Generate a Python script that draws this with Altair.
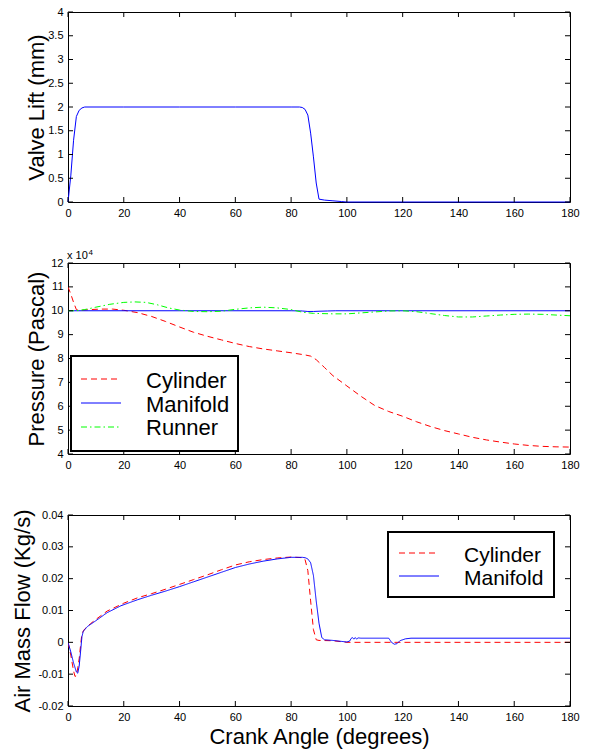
import altair as alt
import pandas as pd

FONT = "Liberation Sans"
W = 502
H1, H2, H3 = 190, 191, 191

# ---- tick values ----
angle_ticks = [0, 20, 40, 60, 80, 100, 120, 140, 160, 180]
lift_ticks = [0, 0.5, 1, 1.5, 2, 2.5, 3, 3.5, 4]
pres_ticks = [4, 5, 6, 7, 8, 9, 10, 11, 12]
flow_ticks = [-0.02, -0.01, 0, 0.01, 0.02, 0.03, 0.04]

# ---- valve lift (mm) ----
lift_angle = [0, 1, 2, 3, 4, 5, 6, 20, 40, 60, 80, 83, 84, 85, 86, 87, 88, 89, 90, 92, 95, 98, 100, 120, 140, 160, 180]
lift_mm = [0, 0.55, 1.3, 1.8, 1.93, 1.98, 2.0, 2.0, 2.0, 2.0, 2.0, 2.0, 1.99, 1.95, 1.83, 1.45, 0.95, 0.4, 0.06, 0.04, 0.025, 0.01, 0, 0, 0, 0, 0]

# ---- pressure (x 10^4 Pa) ----
cyl_p_angle = [0, 1, 2, 3, 4, 5, 8, 12, 16, 20, 25, 30, 35, 40, 45, 50, 55, 60, 65, 70, 75, 80, 85, 87, 89, 92, 95,
               100, 105, 110, 115, 120, 125, 130, 135, 140, 145, 150, 155, 160, 165, 170, 175, 180]
cyl_p = [11.0, 10.7, 10.35, 10.05, 10.0, 10.02, 10.05, 10.07, 10.07, 10.02, 9.92, 9.76, 9.55, 9.32, 9.1, 8.93, 8.78,
         8.63, 8.5, 8.4, 8.32, 8.24, 8.15, 8.1, 7.95, 7.62, 7.28,
         6.85, 6.42, 6.03, 5.78, 5.58, 5.35, 5.15, 4.98, 4.84, 4.7, 4.59, 4.5, 4.42, 4.36, 4.32, 4.3, 4.29]
man_p_angle = [0, 80, 84, 86, 88, 90, 93, 96, 180]
man_p = [10.0, 10.0, 9.99, 9.97, 9.97, 9.98, 9.99, 10.0, 10.0]
run_p_angle = [0, 3, 6, 10, 15, 20, 24, 28, 32, 36, 40, 45, 50, 55, 60, 65, 70, 75, 80, 84, 88, 95, 100, 105, 110,
               115, 120, 125, 130, 135, 140, 145, 150, 155, 160, 165, 170, 175, 180]
run_p = [10.0, 10.0, 10.05, 10.15, 10.27, 10.35, 10.37, 10.35, 10.25, 10.12, 10.03, 9.97, 9.96, 9.98, 10.06, 10.12,
         10.15, 10.12, 10.05, 9.94, 9.89, 9.87, 9.87, 9.91, 9.95, 9.99, 10.0, 9.96, 9.88, 9.8, 9.74, 9.74, 9.78,
         9.82, 9.85, 9.86, 9.85, 9.82, 9.79]

# ---- air mass flow (kg/s) ----
cyl_f_angle = [0, 1, 2, 2.5, 3, 3.5, 4, 4.5, 5, 6, 8, 10, 14, 20, 25, 30, 35, 40, 45, 50, 55, 60, 65, 70, 75, 80,
               84, 85, 86, 87, 88, 89, 90, 95, 100, 180]
cyl_f = [0, -0.004, -0.009, -0.0107, -0.0105, -0.008, -0.0052, -0.001, 0.0028, 0.0042, 0.0058, 0.0072, 0.0098,
         0.0123, 0.014, 0.0153, 0.0167, 0.0182, 0.0197, 0.0212, 0.0228, 0.0243, 0.0253, 0.026, 0.0265, 0.0268,
         0.0266, 0.026, 0.0225, 0.013, 0.004, 0.0008, 0.0006, 0.0005, 0.0, 0.0]
man_f_angle = [0, 1, 2, 3, 3.5, 4, 4.5, 5, 5.5, 7, 10, 14, 19, 25, 30, 35, 40, 45, 50, 55, 60, 65, 70, 75, 80, 84,
               85, 86, 87, 88, 89, 90, 91, 92, 95, 98, 100, 101, 101.5, 102, 102.5, 103, 103.5, 104, 105, 115, 116,
               117, 118, 119, 121, 123, 180]
man_f = [0, -0.003, -0.0065, -0.0093, -0.0097, -0.0075, -0.003, 0.0018, 0.0035, 0.005, 0.0068, 0.0093, 0.0115,
         0.0134, 0.0148, 0.0161, 0.0175, 0.019, 0.0205, 0.022, 0.0235, 0.0246, 0.0255, 0.0262, 0.0267, 0.0267,
         0.0266, 0.0262, 0.025, 0.021, 0.013, 0.006, 0.0015, 0.0008, 0.0006, 0.0003, 0.0001, 0.0004, 0.0012,
         0.0015, 0.001, 0.0015, 0.001, 0.0014, 0.0013, 0.0013, 0.0, -0.0006, -0.0004, 0.0005, 0.0011, 0.0013, 0.0013]

RED, BLUE, GREEN = "#ff0000", "#0000ff", "#00ff00"
DASH, SOLID, DASHDOT = [6, 4], [1, 0], [6, 3, 1.5, 3]

xscale = alt.Scale(domain=[0, 180], nice=False, zero=False)
label_expr = "datum.value + ''"


def x_axis(title=None):
    kw = dict(values=angle_ticks, labelExpr=label_expr, labelFlush=False, labelPadding=5,
              ticks=False, domain=False, grid=False)
    if title:
        kw.update(title=title, titleY=37, titleBaseline="alphabetic")
    else:
        kw.update(title=None)
    return alt.Axis(**kw)


def y_axis(values, title, tx):
    return alt.Axis(values=values, labelExpr=label_expr, labelPadding=5, ticks=False,
                    domain=False, grid=False, title=title, titleX=tx, titleBaseline="alphabetic")


def inner_ticks(yvals, yscale, h, xax, yax):
    dx = pd.DataFrame({"t": angle_ticks})
    dy = pd.DataFrame({"t": yvals})
    rx = alt.Chart(dx).mark_rule(color="black", strokeWidth=1)
    ry = alt.Chart(dy).mark_rule(color="black", strokeWidth=1)
    xs = alt.X("t:Q", scale=xscale, axis=xax)
    ys = alt.Y("t:Q", scale=yscale, axis=yax)
    return [
        rx.encode(x=xs, y=alt.value(h), y2=alt.value(h - 5)),
        rx.encode(x=xs, y=alt.value(0), y2=alt.value(5)),
        ry.encode(y=ys, x=alt.value(0), x2=alt.value(5)),
        ry.encode(y=ys, x=alt.value(W), x2=alt.value(W - 5)),
    ]


def long_df(parts):
    rows = []
    for name, xs, ys in parts:
        for a, v in zip(xs, ys):
            rows.append({"angle": a, "v": v, "series": name})
    return pd.DataFrame(rows)


def legend_box(names, cscale, dscale, box, lines, texts, fsize):
    left, top, width, height = box
    lx0, lx1, ly0, lstep = lines
    tx, ty0, tstep = texts
    layers = [alt.Chart(pd.DataFrame({"k": [0]})).mark_rect(
        fill="white", stroke="black", strokeWidth=2).encode(
        x=alt.value(left), x2=alt.value(left + width), y=alt.value(top), y2=alt.value(top + height))]
    for i, name in enumerate(names):
        d = pd.DataFrame({"series": [name]})
        layers.append(alt.Chart(d).mark_rule(strokeWidth=1).encode(
            color=alt.Color("series:N", scale=cscale, legend=None),
            strokeDash=alt.StrokeDash("series:N", scale=dscale, legend=None),
            x=alt.value(left + lx0), x2=alt.value(left + lx1), y=alt.value(top + ly0 + i * lstep)))
        layers.append(alt.Chart(d).mark_text(
            align="left", baseline="alphabetic", fontSize=fsize, font=FONT, color="black").encode(
            text="series:N", x=alt.value(left + tx), y=alt.value(top + ty0 + i * tstep)))
    return layers


# ---- panel 1: valve lift ----
lift_scale = alt.Scale(domain=[0, 4], nice=False, zero=False)
ax1x, ax1y = x_axis(), y_axis(lift_ticks, "Valve Lift (mm)", -25)
lift_line = alt.Chart(pd.DataFrame({"angle": lift_angle, "v": lift_mm})).mark_line(
    color=BLUE, strokeWidth=1).encode(
    x=alt.X("angle:Q", scale=xscale, axis=ax1x),
    y=alt.Y("v:Q", scale=lift_scale, axis=ax1y),
)
p1 = alt.layer(lift_line, *inner_ticks(lift_ticks, lift_scale, H1, ax1x, ax1y)).properties(width=W, height=H1)

# ---- panel 2: pressure ----
pres_scale = alt.Scale(domain=[4, 12], nice=False, zero=False)
pres_dom = ["Cylinder", "Manifold", "Runner"]
pres_c = alt.Scale(domain=pres_dom, range=[RED, BLUE, GREEN])
pres_d = alt.Scale(domain=pres_dom, range=[DASH, SOLID, DASHDOT])
ax2x, ax2y = x_axis(), y_axis(pres_ticks, "Pressure (Pascal)", -25)
pres_df = long_df([("Cylinder", cyl_p_angle, cyl_p), ("Manifold", man_p_angle, man_p),
                   ("Runner", run_p_angle, run_p)])
pres_lines = alt.Chart(pres_df).mark_line(strokeWidth=1, clip=True).encode(
    x=alt.X("angle:Q", scale=xscale, axis=ax2x),
    y=alt.Y("v:Q", scale=pres_scale, axis=ax2y),
    color=alt.Color("series:N", scale=pres_c, legend=None),
    strokeDash=alt.StrokeDash("series:N", scale=pres_d, legend=None),
)
exp_base = alt.Chart(pd.DataFrame({"t": ["x 10"]})).mark_text(
    align="left", baseline="alphabetic", fontSize=11, font=FONT, color="black").encode(
    text="t:N", x=alt.value(-1), y=alt.value(-4))
exp_sup = alt.Chart(pd.DataFrame({"t": ["4"]})).mark_text(
    align="left", baseline="alphabetic", fontSize=8, font=FONT, color="black").encode(
    text="t:N", x=alt.value(20.5), y=alt.value(-8))
p2 = alt.layer(pres_lines, *inner_ticks(pres_ticks, pres_scale, H2, ax2x, ax2y),
               *legend_box(pres_dom, pres_c, pres_d, (3, 93, 167, 95), (10, 50, 23, 24), (75, 32, 23.5), 22),
               exp_base, exp_sup).properties(width=W, height=H2)

# ---- panel 3: mass flow ----
flow_scale = alt.Scale(domain=[-0.02, 0.04], nice=False, zero=False)
flow_dom = ["Cylinder", "Manifold"]
flow_c = alt.Scale(domain=flow_dom, range=[RED, BLUE])
flow_d = alt.Scale(domain=flow_dom, range=[DASH, SOLID])
ax3x, ax3y = x_axis("Crank Angle (degrees)"), y_axis(flow_ticks, "Air Mass Flow (Kg/s)", -39)
flow_df = long_df([("Cylinder", cyl_f_angle, cyl_f), ("Manifold", man_f_angle, man_f)])
flow_lines = alt.Chart(flow_df).mark_line(strokeWidth=1, clip=True).encode(
    x=alt.X("angle:Q", scale=xscale, axis=ax3x),
    y=alt.Y("v:Q", scale=flow_scale, axis=ax3y),
    color=alt.Color("series:N", scale=flow_c, legend=None),
    strokeDash=alt.StrokeDash("series:N", scale=flow_d, legend=None),
)
p3 = alt.layer(flow_lines, *inner_ticks(flow_ticks, flow_scale, H3, ax3x, ax3y),
               *legend_box(flow_dom, flow_c, flow_d, (320, 17, 166, 65), (11, 51, 21, 23), (76, 30, 22.5), 21)
               ).properties(width=W, height=H3)

chart = alt.vconcat(p1, p2, p3, spacing=61, bounds="flush").resolve_scale(
    x="independent", y="independent", color="independent", strokeDash="independent"
).properties(
    padding={"left": 10, "top": 5, "right": 5, "bottom": 5}, background="white"
).configure_view(stroke="black", strokeWidth=1).configure_axis(
    labelFont=FONT, titleFont=FONT, labelFontSize=11, titleFontSize=22, titleFontWeight="normal",
    labelColor="black", titleColor="black"
)

chart.save("out.html", embed_options={"renderer": "svg", "actions": False})
